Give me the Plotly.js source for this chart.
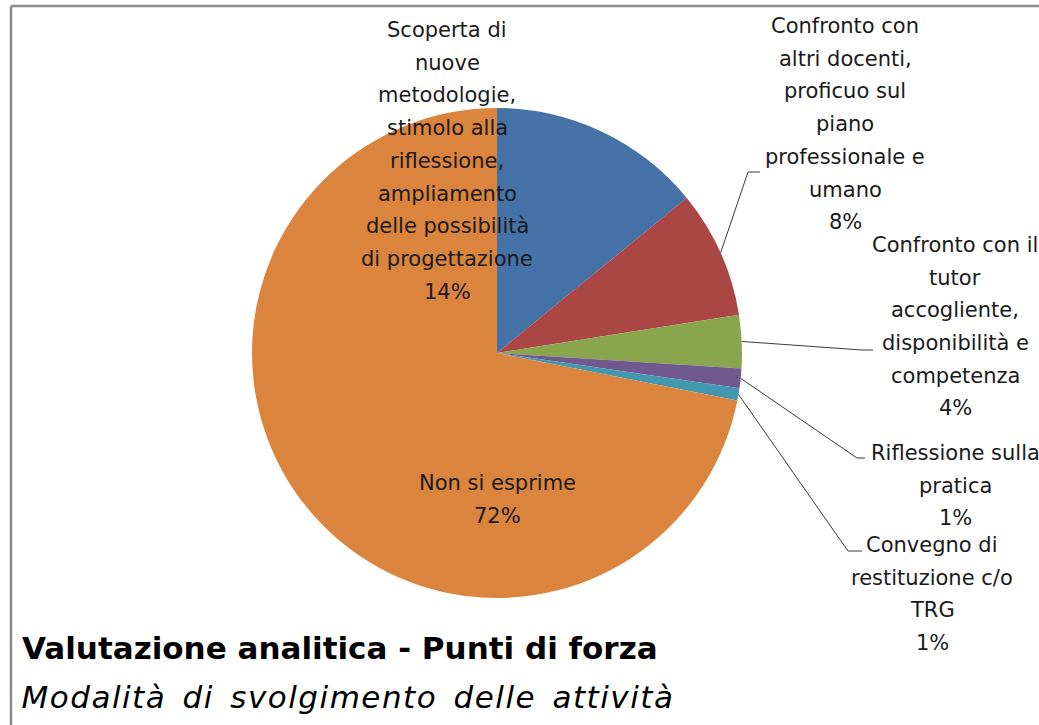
<!DOCTYPE html>
<html>
<head>
<meta charset="utf-8">
<script src="https://cdn.plot.ly/plotly-3.0.1.min.js"></script>
<style>html,body{margin:0;padding:0;background:#fff;}#chart{width:1039px;height:725px;}</style>
</head>
<body>
<div id="chart"></div>
<script>
// ---- data ----
const categories = [
  "Scoperta di nuove metodologie, stimolo alla riflessione, ampliamento delle possibilità di progettazione",
  "Confronto con altri docenti, proficuo sul piano professionale e umano",
  "Confronto con il tutor accogliente, disponibilità e competenza",
  "Riflessione sulla pratica",
  "Convegno di restituzione c/o TRG",
  "Non si esprime"
];
const values = [14.1, 8.4, 3.5, 1.3, 0.8, 71.9];
const sliceColors = ["#4572A7", "#AA4643", "#89A54E", "#71588F", "#4198AF", "#DB843D"];
const labelLines = [
  ["Scoperta di", "nuove", "metodologie,", "stimolo alla", "riflessione,", "ampliamento", "delle possibilità", "di progettazione"],
  ["Confronto con", "altri docenti,", "proficuo sul", "piano", "professionale e", "umano"],
  ["Confronto con il", "tutor", "accogliente,", "disponibilità e", "competenza"],
  ["Riflessione sulla", "pratica"],
  ["Convegno di", "restituzione c/o", "TRG"],
  ["Non si esprime"]
];
const titleLine1 = "Valutazione analitica - Punti di forza";
const titleLine2 = "Modalità di svolgimento delle attività";

// ---- layout constants (pixels) ----
const W = 1039, H = 725, CX = 497, CY = 353, R = 245;
const FONT = "'DejaVu Sans', sans-serif";
const LINE_H = 32.7;
const labelPos = [ // [centerX, firstLineY]
  [447, 30], [845, 26], [955, 245], [955, 453], [932, 545], [497, 483]
];
const elbows = [null, [[748, 172], [760, 172]], [[862, 350], [873, 350]], [[857, 458], [865, 458]], [[848, 551], [862, 551]], null];

const px = x => x / W;
const py = y => 1 - y / H;

const total = values.reduce((a, b) => a + b, 0);
const pct = values.map(v => Math.round(v / total * 100) + "%");

const annotations = [];
labelLines.forEach((lines, i) => {
  const all = lines.concat([pct[i]]);
  all.forEach((t, k) => {
    annotations.push({
      xref: "paper", yref: "paper",
      x: px(labelPos[i][0]), y: py(labelPos[i][1] + k * LINE_H),
      xanchor: "center", yanchor: "middle",
      text: t, showarrow: false,
      font: {family: FONT, size: 21, color: "#1a1a1a"}
    });
  });
});
annotations.push({
  xref: "paper", yref: "paper", x: px(20), y: py(648), xanchor: "left", yanchor: "middle",
  text: "<b>" + titleLine1 + "</b>", showarrow: false,
  font: {family: FONT, size: 31, color: "#000"}
});
annotations.push({
  xref: "paper", yref: "paper", x: px(20), y: py(697), xanchor: "left", yanchor: "middle",
  xshift: 38,
  text: "<i>" + titleLine2 + "</i>", showarrow: false,
  font: {family: FONT, size: 31, color: "#000"}
});
const italicIdx = annotations.length - 1;
const st = document.createElement("style");
st.textContent = `g.annotation[data-index="${italicIdx}"] text{letter-spacing:1.5px;word-spacing:5px;}`;
document.head.appendChild(st);

// leader lines from slice mid-angle on the pie edge
const shapes = [];
let cum = 0;
values.forEach((v, i) => {
  const mid = (cum + v / 2) / total;
  cum += v;
  if (!elbows[i]) return;
  const th = 2 * Math.PI * mid;
  const ex = CX + R * Math.sin(th), ey = CY - R * Math.cos(th);
  const [e1, e2] = elbows[i];
  shapes.push({
    type: "path", xref: "paper", yref: "paper",
    path: `M ${px(ex)} ${py(ey)} L ${px(e1[0])} ${py(e1[1])} L ${px(e2[0])} ${py(e2[1])}`,
    line: {color: "#3a3a3a", width: 1}
  });
});
// chart border (top & left visible)
shapes.push({type: "line", xref: "paper", yref: "paper", x0: px(11), y0: py(6), x1: 1.01, y1: py(6), line: {color: "#8c8c8c", width: 2.5}});
shapes.push({type: "line", xref: "paper", yref: "paper", x0: px(11), y0: py(6), x1: px(11), y1: -0.01, line: {color: "#8c8c8c", width: 2.5}});

const trace = {
  type: "pie",
  labels: categories,
  values: values,
  sort: false,
  direction: "clockwise",
  rotation: 0,
  textinfo: "none",
  hoverinfo: "label+percent",
  marker: {colors: sliceColors, line: {width: 0}},
  domain: {x: [px(CX - R), px(CX + R)], y: [py(CY + R), py(CY - R)]},
  showlegend: false
};

Plotly.newPlot("chart", [trace], {
  width: W, height: H,
  margin: {l: 0, r: 0, t: 0, b: 0},
  paper_bgcolor: "#fff",
  showlegend: false,
  annotations: annotations,
  shapes: shapes
}, {displayModeBar: false, staticPlot: true});
</script>
</body>
</html>
